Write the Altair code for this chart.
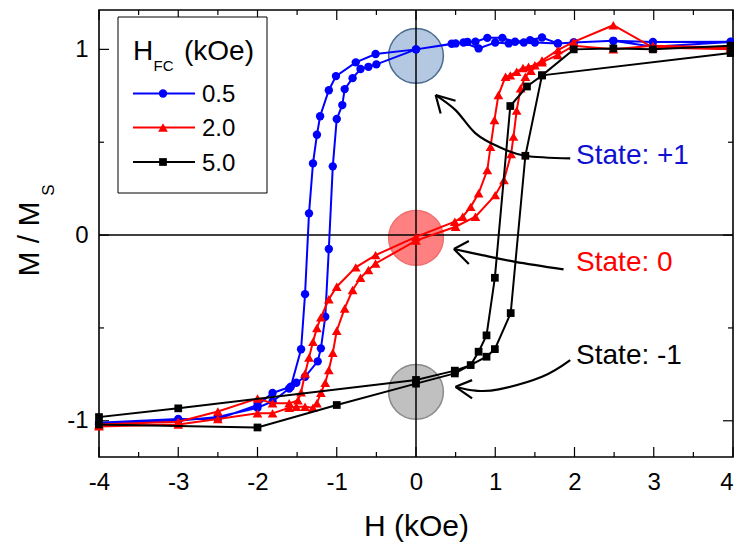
import altair as alt
import pandas as pd

FONT = "Liberation Sans"

# ---------------- data ----------------
SERIES = ["0.5", "2.0", "5.0"]
COLORS = ["#0000FF", "#FF0000", "#000000"]
SHAPES = ["circle", "triangle-up", "square"]
SIZES = [70, 95, 60]

# H_FC = 0.5 kOe
BLUE_H_DESC = [3.97, 2.99, 2.49, 1.99, 1.79, 1.5, 1.36, 1.17, 1.0, 0.79, 0.6, 0.5, 0.0,
               -0.51, -0.76, -1.01, -1.10, -1.21, -1.25, -1.30, -1.35, -1.40, -1.45,
               -1.58, -1.81, -2.0, -2.5, -3.0, -4.0]
BLUE_M_DESC = [1.04, 1.014, 1.046, 1.037, 1.032, 1.037, 1.037, 1.032, 1.037, 1.005, 1.037, 1.032, 1.0,
               0.975, 0.93, 0.856, 0.78, 0.64, 0.54, 0.386, 0.117, -0.318, -0.615,
               -0.817, -0.85, -0.915, -0.99, -0.99, -1.01]
BLUE_H_ASC = [-4.0, -3.0, -2.5, -2.0, -1.81, -1.60, -1.51, -1.40, -1.24, -1.20, -1.145, -1.10,
              -1.05, -1.0, -0.93, -0.90, -0.80, -0.70, -0.60, -0.50, 0.0, 0.45, 0.65, 0.75,
              0.9, 1.09, 1.25, 1.44, 1.59, 1.79, 1.99, 2.49, 2.99, 3.97]
BLUE_M_ASC = [-1.02, -1.0, -0.98, -0.93, -0.896, -0.826, -0.795, -0.763, -0.68, -0.61, -0.44, -0.075,
              0.37, 0.625, 0.70, 0.786, 0.845, 0.894, 0.906, 0.919, 1.0, 1.03, 1.04, 1.041,
              1.062, 1.062, 1.041, 1.05, 1.064, 1.032, 1.037, 1.046, 1.04, 1.041]

# H_FC = 2.0 kOe
RED_H_DESC = [3.97, 2.99, 2.49, 1.99, 1.79, 1.59, 1.5, 1.42, 1.35, 1.27, 1.19, 1.13, 1.04, 0.99,
              0.94, 0.90, 0.79, 0.69, 0.59, 0.49, 0.0, -0.51, -0.76, -1.0, -1.1, -1.2, -1.25,
              -1.30, -1.35, -1.40, -1.45, -1.49, -1.60, -1.81, -2.0, -2.5, -3.0, -4.0]
RED_M_DESC = [1.0, 1.01, 1.13, 1.04, 0.996, 0.94, 0.915, 0.906, 0.90, 0.88, 0.86, 0.853, 0.754, 0.62,
              0.475, 0.35, 0.225, 0.152, 0.099, 0.072, -0.01, -0.108, -0.174, -0.278, -0.346, -0.443, -0.50,
              -0.575, -0.66, -0.745, -0.847, -0.89, -0.906, -0.906, -0.88, -0.95, -1.005, -1.02]
RED_H_ASC = [-4.0, -3.0, -2.5, -2.0, -1.81, -1.60, -1.51, -1.40, -1.30, -1.25, -1.2, -1.145, -1.1,
             -1.05, -1.0, -0.9, -0.8, -0.7, -0.6, -0.51, 0.0, 0.5, 0.75, 1.0, 1.11, 1.2, 1.23,
             1.27, 1.32, 1.38, 1.45, 1.59, 1.79, 1.99, 2.49, 2.99, 3.97]
RED_M_ASC = [-1.03, -1.02, -0.99, -0.96, -0.96, -0.93, -0.924, -0.924, -0.93, -0.906, -0.849, -0.795, -0.727,
             -0.634, -0.515, -0.395, -0.296, -0.23, -0.188, -0.153, -0.03, 0.045, 0.099, 0.215, 0.296, 0.436, 0.53,
             0.67, 0.79, 0.853, 0.885, 0.93, 0.97, 1.02, 1.0, 1.02, 1.01]

# H_FC = 5.0 kOe
BLACK_H_DESC = [3.97, 1.59, 1.40, 1.19, 0.995, 0.89, 0.79, 0.69, 0.49, 0.0, -3.0, -4.0]
BLACK_M_DESC = [0.98, 0.86, 0.80, 0.695, -0.23, -0.54, -0.628, -0.70, -0.73, -0.78, -0.933, -0.98]
BLACK_H_ASC = [-4.0, -2.0, -1.0, 0.0, 0.49, 0.89, 0.995, 1.195, 1.38, 1.59, 1.99, 2.49, 2.99, 3.97]
BLACK_M_ASC = [-1.02, -1.036, -0.915, -0.80, -0.745, -0.655, -0.614, -0.42, 0.427, 0.86, 1.0, 1.005, 1.0, 1.02]

# highlighted states (circles) and their labels
STATES = ["+1", "0", "-1"]
STATE_H = [0.0, 0.0, 0.0]
STATE_M = [0.965, -0.015, -0.844]
STATE_FILL = ["#B4C8E2", "#FF8080", "#C0C0C0"]
STATE_STROKE = ["#4A6A90", "#F07070", "#8A8A8A"]
LABELS = ["State: +1", "State: 0", "State: -1"]
LABEL_H = [2.02, 2.02, 2.02]
LABEL_M = [0.425, -0.152, -0.650]
LABEL_COLORS = ["#1010D0", "#FF0000", "#000000"]

# curved arrows (from label toward circle), in data units
ARROW_PLUS_H = [1.946, 1.38, 1.044, 0.751, 0.499, 0.248]
ARROW_PLUS_M = [0.413, 0.427, 0.475, 0.548, 0.673, 0.754]
ARROW_ZERO_H = [1.862, 1.254, 0.834, 0.478]
ARROW_ZERO_M = [-0.185, -0.144, -0.108, -0.075]
ARROW_MINUS_H = [1.946, 1.589, 1.044, 0.751, 0.499]
ARROW_MINUS_M = [-0.673, -0.763, -0.831, -0.838, -0.817]
# arrow-head arm end points (tip is the last curve point)
HEAD_PLUS_H = [0.499, 0.311]
HEAD_PLUS_M = [0.723, 0.655]
HEAD_ZERO_H = [0.667, 0.667]
HEAD_ZERO_M = [-0.032, -0.156]
HEAD_MINUS_H = [0.708, 0.708]
HEAD_MINUS_M = [-0.781, -0.879]

X_MAJOR = [-4, -3, -2, -1, 0, 1, 2, 3, 4]
X_MINOR = [-3.5, -2.5, -1.5, -0.5, 0.5, 1.5, 2.5, 3.5]
Y_MAJOR = [-1, 0, 1]
Y_MINOR = [-0.5, 0.5]

# ---------------- layout ----------------
PW, PH = 634, 447
xs = alt.Scale(domain=[-4, 4], nice=False, zero=False)
ys = alt.Scale(domain=[-1.195, 1.212], nice=False, zero=False)

xaxis = alt.Axis(values=X_MAJOR, labelExpr="'' + datum.value", ticks=False, tickSize=0,
                 domain=False, grid=False, labelFontSize=24, labelFont=FONT, labelColor="black",
                 labelFlush=False, labelOverlap=False,
                 labelAlign={"condition": {"test": "datum.value == 4", "value": "right"}, "value": "center"},
                 labelPadding=13, title="H (kOe)", titleFont=FONT, titleFontSize=30,
                 titleFontWeight="normal", titleColor="black", titlePadding=17)
yaxis = alt.Axis(values=Y_MAJOR, labelExpr="'' + datum.value", ticks=False, tickSize=0,
                 domain=False, grid=False, labelFontSize=24, labelFont=FONT, labelColor="black",
                 labelFlush=False, labelOverlap=False,
                 labelPadding=11, title=None)


def X(field="H"):
    return alt.X(f"{field}:Q", scale=xs, axis=xaxis)


def Y(field="M"):
    return alt.Y(f"{field}:Q", scale=ys, axis=yaxis)


one = pd.DataFrame({"k": [0]})
layers = []

# state circles
states_df = pd.DataFrame({"state": STATES, "H": STATE_H, "M": STATE_M})
layers.append(
    alt.Chart(states_df).mark_point(shape="circle", filled=True, size=3000, strokeWidth=1.5, opacity=1)
    .encode(x=X(), y=Y(),
            fill=alt.Fill("state:N", scale=alt.Scale(domain=STATES, range=STATE_FILL), legend=None),
            stroke=alt.Stroke("state:N", scale=alt.Scale(domain=STATES, range=STATE_STROKE), legend=None))
)

# zero cross-hair
layers.append(alt.Chart(pd.DataFrame({"H": [0]})).mark_rule(color="black", strokeWidth=1.5).encode(x=X()))
layers.append(alt.Chart(pd.DataFrame({"M": [0]})).mark_rule(color="black", strokeWidth=1.5).encode(y=Y()))

# inward ticks on all four sides
for vals, ln in ((X_MAJOR, 10), (X_MINOR, 5)):
    d = pd.DataFrame({"H": vals})
    layers.append(alt.Chart(d).mark_rule(color="black", strokeWidth=1.2)
                  .encode(x=X(), y=alt.value(PH), y2=alt.value(PH - ln)))
    layers.append(alt.Chart(d).mark_rule(color="black", strokeWidth=1.2)
                  .encode(x=X(), y=alt.value(0), y2=alt.value(ln)))
for vals, ln in ((Y_MAJOR, 10), (Y_MINOR, 5)):
    d = pd.DataFrame({"M": vals})
    layers.append(alt.Chart(d).mark_rule(color="black", strokeWidth=1.2)
                  .encode(y=Y(), x=alt.value(0), x2=alt.value(ln)))
    layers.append(alt.Chart(d).mark_rule(color="black", strokeWidth=1.2)
                  .encode(y=Y(), x=alt.value(PW), x2=alt.value(PW - ln)))

# hysteresis loops
loops = [
    (BLUE_H_DESC, BLUE_M_DESC, BLUE_H_ASC, BLUE_M_ASC),
    (RED_H_DESC, RED_M_DESC, RED_H_ASC, RED_M_ASC),
    (BLACK_H_DESC, BLACK_M_DESC, BLACK_H_ASC, BLACK_M_ASC),
]
for name, col, shp, sz, (hd, md, ha, ma) in zip(SERIES, COLORS, SHAPES, SIZES, loops):
    h = list(hd) + list(ha)
    m = list(md) + list(ma)
    df = pd.DataFrame({"H": h, "M": m, "idx": list(range(len(h))), "series": name})
    base = alt.Chart(df)
    layers.append(base.mark_line(color=col, strokeWidth=2).encode(x=X(), y=Y(), order="idx:Q"))
    layers.append(base.mark_point(shape=shp, filled=True, color=col, size=sz, opacity=1)
                  .encode(x=X(), y=Y()))

# arrows
arrow_rows = []
for nm, hh, mm in (("p", ARROW_PLUS_H, ARROW_PLUS_M), ("z", ARROW_ZERO_H, ARROW_ZERO_M),
                   ("m", ARROW_MINUS_H, ARROW_MINUS_M)):
    for i, (a, b) in enumerate(zip(hh, mm)):
        arrow_rows.append({"name": nm, "H": a, "M": b, "idx": i})
arrows_df = pd.DataFrame(arrow_rows)
layers.append(alt.Chart(arrows_df).mark_line(color="black", strokeWidth=2.2, interpolate="cardinal")
              .encode(x=X(), y=Y(), detail="name:N", order="idx:Q"))

head_rows = []
for nm, tipH, tipM, ah, am in (("p", ARROW_PLUS_H[-1], ARROW_PLUS_M[-1], HEAD_PLUS_H, HEAD_PLUS_M),
                               ("z", ARROW_ZERO_H[-1], ARROW_ZERO_M[-1], HEAD_ZERO_H, HEAD_ZERO_M),
                               ("m", ARROW_MINUS_H[-1], ARROW_MINUS_M[-1], HEAD_MINUS_H, HEAD_MINUS_M)):
    for j, (a, b) in enumerate(zip(ah, am)):
        key = f"{nm}{j}"
        head_rows.append({"arm": key, "H": a, "M": b, "idx": 0})
        head_rows.append({"arm": key, "H": tipH, "M": tipM, "idx": 1})
heads_df = pd.DataFrame(head_rows)
layers.append(alt.Chart(heads_df).mark_line(color="black", strokeWidth=2.2)
              .encode(x=X(), y=Y(), detail="arm:N", order="idx:Q"))

# state labels
labels_df = pd.DataFrame({"label": LABELS, "H": LABEL_H, "M": LABEL_M})
layers.append(alt.Chart(labels_df).mark_text(align="left", baseline="middle", fontSize=28, font=FONT)
              .encode(x=X(), y=Y(), text="label:N",
                      color=alt.Color("label:N", scale=alt.Scale(domain=LABELS, range=LABEL_COLORS),
                                      legend=None)))

# y-axis title  M / M_S
layers.append(alt.Chart(one).mark_text(text="M / M", fontSize=30, font=FONT, angle=270,
                                       align="center", baseline="middle", color="black")
              .encode(x=alt.value(-69), y=alt.value(229)))
layers.append(alt.Chart(one).mark_text(text="S", fontSize=17, font=FONT, angle=270,
                                       align="center", baseline="middle", color="black")
              .encode(x=alt.value(-50), y=alt.value(180)))

# legend (drawn manually because of the subscript in its title)
layers.append(alt.Chart(one).mark_rect(fill="white", stroke="black", strokeWidth=1)
              .encode(x=alt.value(19), x2=alt.value(168), y=alt.value(7), y2=alt.value(183)))
layers.append(alt.Chart(one).mark_text(text="H", fontSize=28, font=FONT, align="left",
                                       baseline="alphabetic", color="black")
              .encode(x=alt.value(34), y=alt.value(50)))
layers.append(alt.Chart(one).mark_text(text="FC", fontSize=15, font=FONT, align="left",
                                       baseline="alphabetic", color="black")
              .encode(x=alt.value(54.5), y=alt.value(61)))
layers.append(alt.Chart(one).mark_text(text="(kOe)", fontSize=28, font=FONT, align="left",
                                       baseline="alphabetic", color="black")
              .encode(x=alt.value(85), y=alt.value(50)))
LEG_Y = [83.5, 117.5, 152]
for name, col, shp, sz, ly in zip(SERIES, COLORS, SHAPES, SIZES, LEG_Y):
    layers.append(alt.Chart(one).mark_rule(color=col, strokeWidth=2)
                  .encode(x=alt.value(34), x2=alt.value(96), y=alt.value(ly)))
    layers.append(alt.Chart(one).mark_point(shape=shp, filled=True, color=col, size=sz, opacity=1)
                  .encode(x=alt.value(64), y=alt.value(ly)))
    layers.append(alt.Chart(one).mark_text(text=name, fontSize=24, font=FONT, align="left",
                                           baseline="middle", color="black")
                  .encode(x=alt.value(103), y=alt.value(ly + 1.5)))

chart = (
    alt.layer(*layers)
    .properties(width=PW, height=PH, autosize=alt.AutoSizeParams(type="none"),
                padding={"left": 91, "top": 2, "right": 1, "bottom": 85})
    .configure_view(stroke="black", strokeWidth=1.6)
)

chart.save("out.html", embed_options={"renderer": "svg", "actions": False})
